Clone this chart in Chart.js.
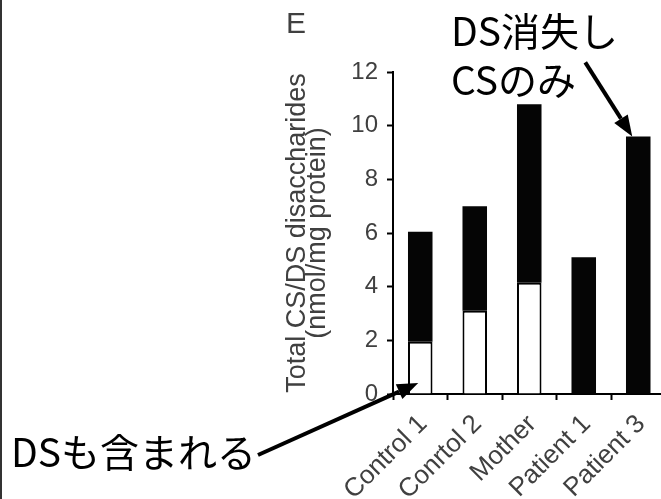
<!DOCTYPE html>
<html>
<head>
<meta charset="utf-8">
<script src="https://cdn.jsdelivr.net/npm/chart.js@4/dist/chart.umd.min.js"></script>
<style>
  html, body { margin: 0; padding: 0; background: #fff; }
  #wrap { position: relative; width: 661px; height: 499px; overflow: hidden; background: #fff; }
  #edge { position: absolute; left: 0; top: 0; width: 2px; height: 499px; background: #333; }
  canvas { position: absolute; left: 0; top: 0; }
</style>
</head>
<body>
<div id="wrap">
  <canvas id="c" width="700" height="499" style="width:700px;height:499px"></canvas>
  <div id="edge"></div>
</div>
<script>
// Disaccharide content per sample (nmol/mg protein)
const categories = ['Control 1', 'Conrtol 2', 'Mother', 'Patient 1', 'Patient 3'];
const dsValues = [1.95, 3.1, 4.15, 0, 0];     // DS part (white, bottom of stack)
const csValues = [4.1, 3.9, 6.65, 5.1, 9.6];  // CS part (black, top of stack)
const yTicks = [0, 2, 4, 6, 8, 10, 12];

const sansFamily = '"Liberation Sans", Arial, sans-serif';
const greyText = '#404040';

function arrow(ctx, x0, y0, x1, y1, head, half) {
  const ang = Math.atan2(y1 - y0, x1 - x0);
  const bx = x1 - head * Math.cos(ang);
  const by = y1 - head * Math.sin(ang);
  ctx.strokeStyle = '#000';
  ctx.lineWidth = 4;
  ctx.lineCap = 'butt';
  ctx.beginPath();
  ctx.moveTo(x0, y0);
  ctx.lineTo(bx, by);
  ctx.stroke();
  ctx.fillStyle = '#000';
  ctx.beginPath();
  ctx.moveTo(x1, y1);
  ctx.lineTo(bx + half * Math.sin(ang), by - half * Math.cos(ang));
  ctx.lineTo(bx - half * Math.sin(ang), by + half * Math.cos(ang));
  ctx.closePath();
  ctx.fill();
}

// Panel letter, Japanese call-outs and their arrows
const callouts = {
  id: 'callouts',
  afterDraw(chart) {
    const { ctx, scales: { x, y } } = chart;
    ctx.save();
    ctx.textAlign = 'left';
    ctx.textBaseline = 'alphabetic';
    ctx.fillStyle = greyText;
    ctx.font = '30px ' + sansFamily;
    ctx.fillText('E', 286, 33);

    ctx.fillStyle = '#000';
    ctx.font = '39px "Noto Sans CJK JP", sans-serif';
    ctx.fillText('DS消失し', 451, 46);
    ctx.fillText('CSのみ', 451, 95);
    ctx.fillText('DSも含まれる', 11, 467);

    const last = categories.length - 1;
    const tip1x = x.getPixelForValue(last) - 6;
    const tip1y = y.getPixelForValue(dsValues[last] + csValues[last]);
    arrow(ctx, tip1x - 47, tip1y - 74, tip1x, tip1y, 21, 8);

    const tip2x = x.getPixelForValue(0) - 2;
    const tip2y = y.getPixelForValue(0) - 11;
    arrow(ctx, 258, 455, tip2x, tip2y, 21, 8);
    ctx.restore();
  }
};

new Chart(document.getElementById('c'), {
  type: 'bar',
  data: {
    labels: categories,
    datasets: [
      {
        label: 'DS',
        data: dsValues,
        backgroundColor: '#fff',
        borderColor: '#000',
        borderWidth: 2,
        barPercentage: 0.45,
        categoryPercentage: 1
      },
      {
        label: 'CS',
        data: csValues,
        backgroundColor: '#050505',
        borderWidth: 0,
        barPercentage: 0.45,
        categoryPercentage: 1
      }
    ]
  },
  options: {
    responsive: false,
    devicePixelRatio: 1,
    animation: false,
    layout: { padding: { left: 0, top: 72, right: 34.5, bottom: 0 } },
    plugins: { legend: { display: false }, tooltip: { enabled: false } },
    scales: {
      x: {
        stacked: true,
        afterFit: (s) => { s.height = 105; },
        grid: { display: true, drawOnChartArea: false, drawTicks: true, tickLength: 6, tickColor: '#000', tickWidth: 2, offset: true },
        border: { display: true, color: '#000', width: 2 },
        ticks: { color: greyText, font: { family: sansFamily, size: 26 }, minRotation: 45, maxRotation: 45, padding: 9, labelOffset: 3, autoSkip: false }
      },
      y: {
        stacked: true,
        min: 0,
        max: 12,
        afterFit: (s) => { s.width = 393; },
        afterBuildTicks: (s) => { s.ticks = yTicks.map(v => ({ value: v })); },
        grid: { display: true, drawOnChartArea: false, drawTicks: true, tickLength: 6, tickColor: '#000', tickWidth: 2 },
        border: { display: true, color: '#000', width: 2 },
        ticks: { color: greyText, font: { family: sansFamily, size: 24 }, padding: 9 },
        title: {
          display: true,
          text: ['Total CS/DS disaccharides', '(nmol/mg protein)'],
          color: greyText,
          font: { family: sansFamily, size: 27, lineHeight: 0.75 },
          padding: { top: 287, bottom: 0 }
        }
      }
    }
  },
  plugins: [callouts]
});
</script>
</body>
</html>
